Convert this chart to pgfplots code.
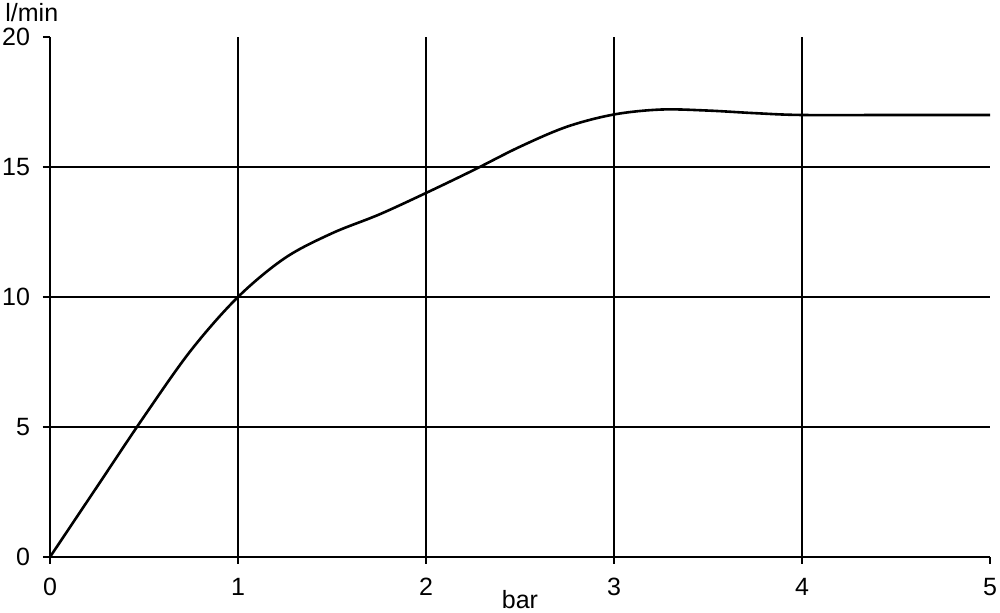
\documentclass[border=0pt]{standalone}
\usepackage{fontspec}
\setmainfont{Liberation Sans}
\usepackage{pgfplots}
\pgfplotsset{compat=1.18}
\begin{document}
\begin{tikzpicture}[font=\fontsize{12.5}{15}\selectfont]
\begin{axis}[
  at={(0,0)}, anchor=south west,
  scale only axis, width=470pt, height=260pt,
  xmin=0, xmax=5, ymin=0, ymax=20,
  axis x line*=bottom, axis y line*=left,
  axis line style={-, line width=0.75pt, black},
  xtick={0,1,2,3,4,5}, ytick={0,5,10,15,20},
  tick align=outside, major tick length=3.5pt,
  tick style={line width=0.75pt, black},
  extra x ticks={1,2,3,4}, extra x tick labels={},
  extra y ticks={5,10,15}, extra y tick labels={},
  extra tick style={grid=major, major grid style={line width=0.7pt, black}},
  /pgf/number format/assume math mode=true,
  tick label style={font=\fontsize{12.5}{15}\selectfont},
  xticklabel style={yshift=-3.5pt},
  yticklabel style={xshift=-3pt},
  clip=false,
]
\addplot[black, line width=1.3pt, smooth, tension=0.55] coordinates {
(0,0) (0.25,2.7) (0.5,5.4) (0.75,7.95) (1,10)
(1.25,11.5) (1.5,12.45) (1.75,13.17) (2,14.0)
(2.25,14.87) (2.5,15.78) (2.75,16.55) (3,17.02)
(3.25,17.21) (3.5,17.17) (3.75,17.07) (4,17.0)
(4.5,17) (5,17)
};
\end{axis}
\node[anchor=west, inner sep=0pt] at (-22.5pt,272pt) {l/min};
\node[anchor=center, inner sep=0pt] at (235pt,-21.5pt) {bar};
\pgfresetboundingbox
\path (-25pt,-28pt) rectangle (475pt,278.5pt);
\end{tikzpicture}
\end{document}
